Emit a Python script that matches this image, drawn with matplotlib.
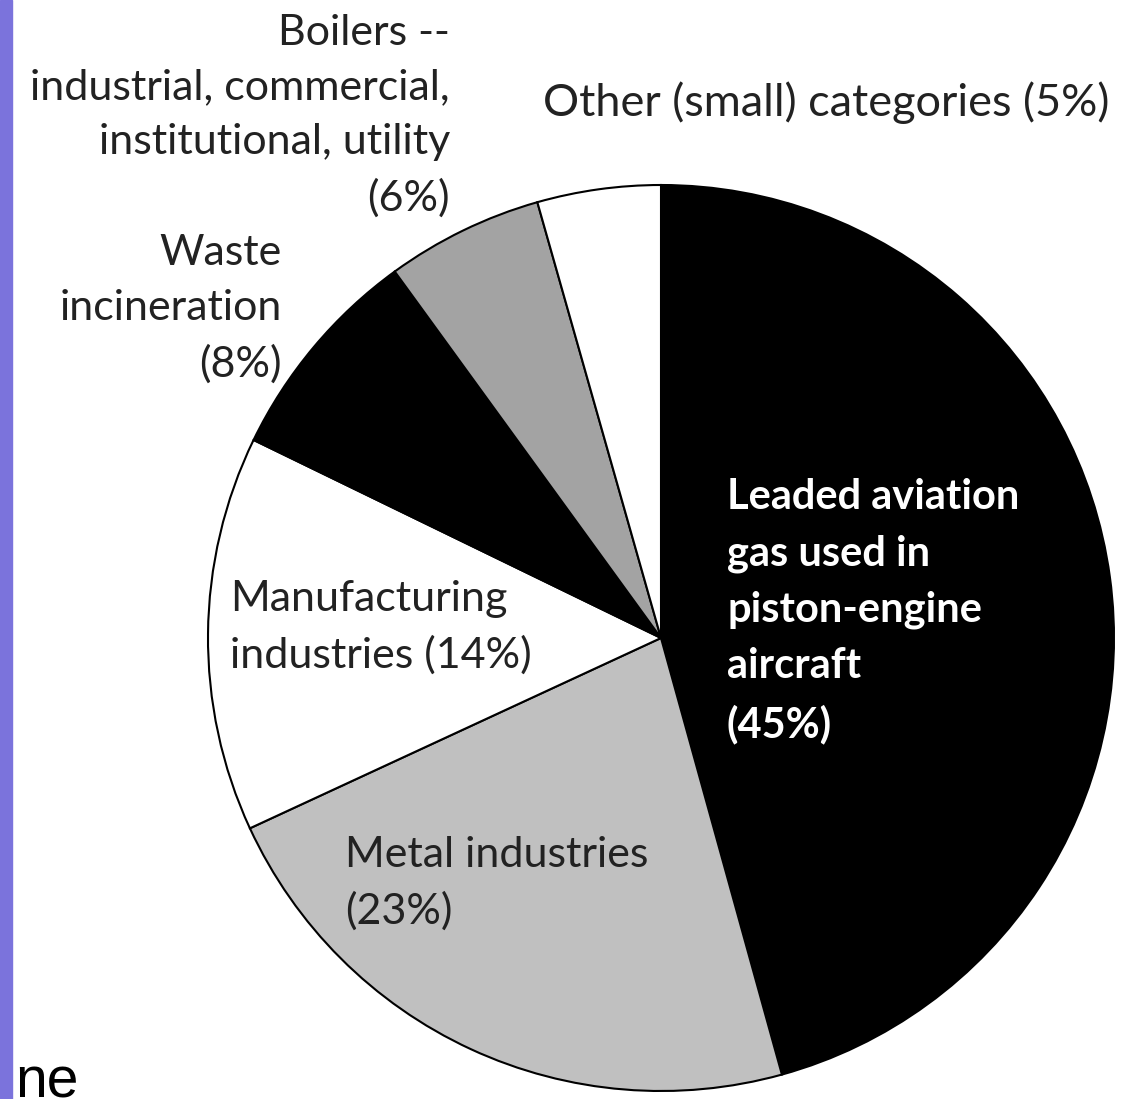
import matplotlib.pyplot as plt
from matplotlib.patches import Rectangle

# slices, clockwise from 12 o'clock
labels = ['Leaded aviation\ngas used in\npiston-engine\naircraft\n(45%)',
          'Metal industries\n(23%)',
          'Manufacturing\nindustries (14%)',
          'Waste\nincineration\n(8%)',
          'Boilers --\nindustrial, commercial,\ninstitutional, utility\n(6%)',
          'Other (small) categories (5%)']
# slice sizes as drawn in the picture (labels are rounded, sum to 101)
shares = [45.7, 22.4, 14.1, 7.8, 5.6, 4.4]
colors = ['#000000', '#c0c0c0', '#ffffff', '#000000', '#a3a3a3', '#ffffff']

W, H = 1121, 1099
fig = plt.figure(figsize=(W / 100, H / 100), dpi=100)
ax = fig.add_axes([0, 0, 1, 1])
ax.set_xlim(0, W)
ax.set_ylim(0, H)
ax.axis('off')

ax.pie(shares, colors=colors, startangle=90, counterclock=False,
       center=(661, H - 638), radius=453,
       wedgeprops=dict(edgecolor='black', linewidth=1.5))
ax.set_xlim(0, W)
ax.set_ylim(0, H)
ax.set_aspect('equal')

font = 'Lato'
fs = 31
ls = 1.53

# label placement (x, y in px from top)
ax.text(450, H - 116, labels[4], ha='right', va='center', multialignment='right',
        fontsize=fs, family=font, color='#222222', linespacing=ls)
ax.text(543, H - 103, labels[5], ha='left', va='center',
        fontsize=32.5, family=font, color='#222222')
ax.text(282, H - 309, labels[3], ha='right', va='center', multialignment='right',
        fontsize=fs, family=font, color='#222222', linespacing=ls)
ax.text(727, H - 611, labels[0], ha='left', va='center',
        fontsize=30, family=font, color='white', weight='bold', linespacing=1.58)
ax.text(230, H - 627, labels[2], ha='left', va='center',
        fontsize=fs, family=font, color='#222222', linespacing=ls)
ax.text(345, H - 883, labels[1], ha='left', va='center',
        fontsize=fs, family=font, color='#222222', linespacing=ls)

# slide border on the left and stray text at the bottom
ax.add_patch(Rectangle((0, 0), 12, H, color='#7b73dc', zorder=5))
ax.text(15, 2, 'ne', ha='left', va='baseline', fontsize=41,
        family='Liberation Sans', color='black')

fig.savefig('out.png', dpi=100)
